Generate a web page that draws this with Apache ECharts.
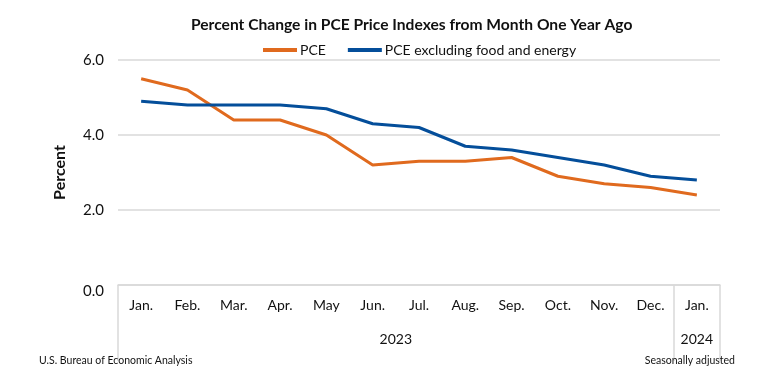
<!DOCTYPE html>
<html><head><meta charset="utf-8">
<script src="https://cdn.jsdelivr.net/npm/echarts@6/dist/echarts.min.js"></script>
<style>html,body{margin:0;padding:0;background:#fff}#c{width:770px;height:385px}</style>
</head><body><div id="c"></div>
<script>
const months = ['Jan.','Feb.','Mar.','Apr.','May','Jun.','Jul.','Aug.','Sep.','Oct.','Nov.','Dec.','Jan.'];
const years = ['2023','2024'];
const yearCounts = [12, 1];
const pce = [5.5, 5.2, 4.4, 4.4, 4.0, 3.2, 3.3, 3.3, 3.4, 2.9, 2.7, 2.6, 2.4];
const core = [4.9, 4.8, 4.8, 4.8, 4.7, 4.3, 4.2, 3.7, 3.6, 3.4, 3.2, 2.9, 2.8];
const yTicks = [0, 2, 4, 6];

const bounds = [0]; const centers = [];
yearCounts.forEach(c => { const s = bounds[bounds.length-1]; bounds.push(s + c); centers.push(s + c/2); });

const FONT = 'Lato';
const TXT = '#111';
const chart = echarts.init(document.getElementById('c'));
chart.setOption({
  animation: false,
  textStyle: {fontFamily: FONT},
  title: [
    {text: 'Percent Change in PCE Price Indexes from Month One Year Ago', left: 186, top: 12,
     textStyle: {fontFamily: FONT, fontWeight: 'bold', fontSize: 15.6, color: TXT}},
    {text: 'U.S. Bureau of Economic Analysis', left: 34, top: 350,
     textStyle: {fontFamily: FONT, fontWeight: 'normal', fontSize: 10.5, color: TXT}},
    {text: 'Seasonally adjusted', right: 30, top: 350,
     textStyle: {fontFamily: FONT, fontWeight: 'normal', fontSize: 10.5, color: TXT}}
  ],
  legend: {
    top: 38, left: 258, icon: 'rect', itemWidth: 34, itemHeight: 4, itemGap: 22,
    textStyle: {fontFamily: FONT, fontSize: 14, color: TXT, padding: [0,0,0,-2]},
    data: ['PCE', 'PCE excluding food and energy']
  },
  grid: {left: 118, right: 50, top: 60, bottom: 100, containLabel: false},
  xAxis: [
    {type: 'category', data: months, boundaryGap: true, position: 'bottom',
     axisLine: {show: true, lineStyle: {color: '#d9d9d9', width: 1.5}},
     axisTick: {show: false},
     axisLabel: {color: TXT, fontSize: 14, margin: 13, fontFamily: FONT, interval: 0}},
    {type: 'value', min: 0, max: bounds[bounds.length-1], position: 'bottom',
     axisLine: {show: false}, splitLine: {show: false},
     axisTick: {show: true, customValues: bounds, length: 76, lineStyle: {color: '#d9d9d9', width: 1.5}},
     axisLabel: {show: true, customValues: centers, margin: 47, color: TXT, fontSize: 14, fontFamily: FONT,
       formatter: v => { const i = centers.indexOf(v); return i >= 0 ? years[i] : ''; }}}
  ],
  yAxis: {
    type: 'value', min: yTicks[0], max: yTicks[yTicks.length-1], interval: 2,
    name: 'Percent', nameLocation: 'middle', nameGap: 50, nameRotate: 90,
    nameTextStyle: {fontFamily: FONT, fontWeight: 'bold', fontSize: 16, color: TXT, padding: [0,0,0,0]},
    axisLine: {show: false}, axisTick: {show: false},
    axisLabel: {color: TXT, fontSize: 15, margin: 14,
      formatter: v => v === 0 ? '{low|' + v.toFixed(1) + '}' : v.toFixed(1),
      rich: {low: {fontSize: 15, color: TXT, fontFamily: FONT, padding: [12, 0, 0, 0]}}},
    splitLine: {lineStyle: {color: '#d9d9d9', width: 1.5}}
  },
  series: [
    {name: 'PCE', type: 'line', data: pce, xAxisIndex: 0, symbol: 'none',
     lineStyle: {width: 3, color: '#E06A1E'}, itemStyle: {color: '#E06A1E'}},
    {name: 'PCE excluding food and energy', type: 'line', data: core, xAxisIndex: 0, symbol: 'none',
     lineStyle: {width: 3, color: '#044E9A'}, itemStyle: {color: '#044E9A'}}
  ]
});
</script></body></html>
